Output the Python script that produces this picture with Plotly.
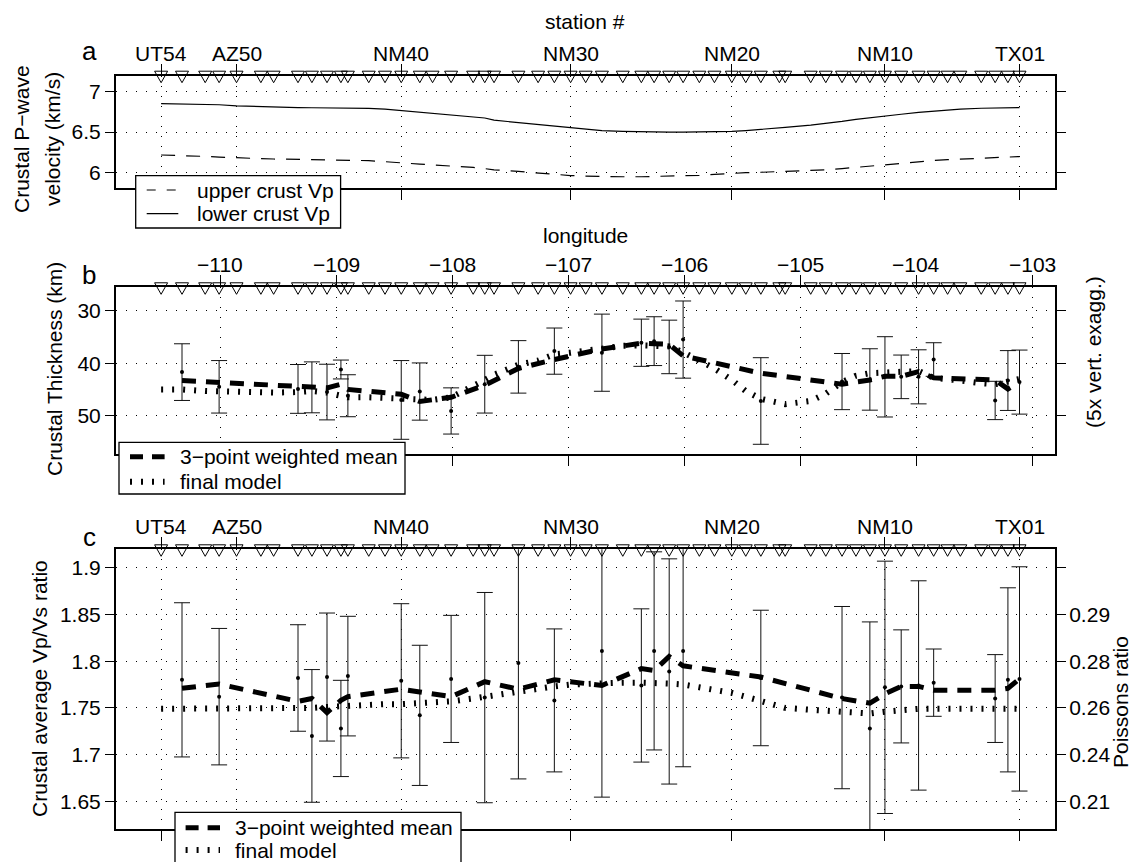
import plotly.graph_objects as go

W, H = 1134, 862
FONT = "Liberation Sans, Arial, Helvetica, sans-serif"
FS = 21

# ---------------- data ----------------
station_num = list(range(54, 0, -1))
station_lon = [-110.51, -110.33, -110.13, -110.01, -109.86, -109.65, -109.54, -109.33, -109.21, -109.08,
               -108.96, -108.90, -108.72, -108.58, -108.44, -108.28, -108.17, -108.01, -107.82, -107.72,
               -107.64, -107.43, -107.26, -107.12, -106.98, -106.85, -106.71, -106.53, -106.37, -106.26,
               -106.13, -106.01, -105.87, -105.74, -105.59, -105.47, -105.34, -105.18, -105.13, -104.91,
               -104.78, -104.64, -104.52, -104.40, -104.27, -104.13, -103.98, -103.85, -103.73, -103.62,
               -103.44, -103.32, -103.21, -103.11]
label_names = ["UT54", "AZ50", "NM40", "NM30", "NM20", "NM10", "TX01"]
label_num = [54, 50, 40, 30, 20, 10, 1]
lon_ticks = [-110, -109, -108, -107, -106, -105, -104, -103]
lon_ticktext = ["\u2212110", "\u2212109", "\u2212108", "\u2212107", "\u2212106", "\u2212105", "\u2212104", "\u2212103"]

# panel a: crustal P-wave velocity at each station
lower_vp = [6.848, 6.846, 6.842, 6.835, 6.822, 6.810, 6.805, 6.800, 6.798, 6.797,
            6.796, 6.795, 6.790, 6.782, 6.765, 6.745, 6.730, 6.712, 6.690, 6.672,
            6.645, 6.615, 6.592, 6.570, 6.548, 6.532, 6.518, 6.508, 6.502, 6.500,
            6.498, 6.498, 6.500, 6.503, 6.508, 6.518, 6.530, 6.550, 6.556, 6.585,
            6.605, 6.630, 6.655, 6.677, 6.697, 6.718, 6.740, 6.757, 6.772, 6.782,
            6.792, 6.797, 6.799, 6.800]
upper_vp = [6.217, 6.212, 6.200, 6.192, 6.180, 6.172, 6.168, 6.162, 6.160, 6.158,
            6.156, 6.155, 6.148, 6.135, 6.118, 6.105, 6.095, 6.085, 6.065, 6.050,
            6.035, 6.015, 5.995, 5.980, 5.965, 5.958, 5.952, 5.950, 5.950, 5.952,
            5.955, 5.960, 5.968, 5.978, 5.995, 6.000, 6.005, 6.012, 6.015, 6.025,
            6.035, 6.050, 6.065, 6.080, 6.100, 6.120, 6.135, 6.150, 6.160, 6.168,
            6.178, 6.188, 6.195, 6.198]

# stations with receiver-function measurements
meas_num = [53, 51, 47, 46, 45, 44, 43, 40, 39, 37, 35, 33, 31, 28, 26, 25, 24, 23, 18, 13,
            11, 10, 9, 8, 7, 3, 2, 1]

# panel b: crustal thickness (km)
thick = [41.7, 44.5, 44.9, 44.6, 45.5, 41.2, 46.2, 47.0, 45.4, 49.1,
         44.0, 40.7, 37.7, 38.0, 36.1, 35.8, 36.9, 35.5, 47.2, 43.5,
         43.1, 42.6, 42.6, 42.6, 39.3, 47.1, 43.3, 43.6]
thick_err = [5.4, 5.0, 4.65, 4.85, 5.3, 1.8, 4.0, 7.5, 5.45, 4.4,
             5.5, 5.0, 4.4, 7.35, 4.5, 4.65, 5.1, 7.35, 8.25, 5.35,
             5.85, 7.65, 4.15, 5.15, 3.2, 3.65, 5.7, 6.1]
mean_thick = [43.3, 43.7, 44.4, 44.6, 44.7, 44.0, 45.0, 45.9, 47.3, 46.5,
              44.2, 41.0, 39.3, 37.3, 36.2, 36.3, 36.4, 38.6, 41.9, 44.0,
              43.2, 42.5, 42.5, 41.6, 42.8, 43.2, 44.9, 43.6]
final_thick = [45.0, 45.0, 45.3, 45.4, 45.5, 45.6, 45.6, 45.5, 45.3, 45.6,
               46.3, 46.5, 46.5, 46.6, 46.8, 47.0, 47.0, 46.5, 44.5, 43.2,
               42.2, 40.3, 39.5, 38.3, 38.0, 37.6, 37.0, 36.7, 36.6, 36.6,
               36.8, 37.9, 39.4, 41.0, 43.2, 45.3, 46.8, 47.6, 47.8, 47.2,
               45.8, 43.6, 42.4, 41.9, 41.8, 41.5, 41.5, 42.8, 43.2, 43.3,
               43.8, 44.0, 43.5, 43.0]

# panel c: crustal average Vp/Vs
vpvs = [1.780, 1.762, 1.782, 1.720, 1.783, 1.728, 1.784, 1.779, 1.742, 1.781,
        1.761, 1.798, 1.758, 1.811, 1.774, 1.811, 1.789, 1.811, 1.782, 1.761,
        1.728, 1.772, 1.773, 1.774, 1.777, 1.760, 1.780, 1.781]
vpvs_err = [0.0825, 0.073, 0.057, 0.071, 0.0685, 0.0515, 0.064, 0.0825, 0.075, 0.068,
            0.1125, 0.124, 0.0765, 0.1565, 0.082, 0.106, 0.1205, 0.124, 0.0725, 0.0975,
            0.114, 0.135, 0.0605, 0.112, 0.036, 0.047, 0.0985, 0.12]
mean_vpvs = [1.771, 1.7755, 1.757, 1.760, 1.745, 1.758, 1.762, 1.770, 1.767, 1.762,
             1.778, 1.770, 1.780, 1.774, 1.792, 1.790, 1.805, 1.795, 1.783, 1.760,
             1.755, 1.765, 1.773, 1.773, 1.769, 1.769, 1.771, 1.781]
final_vpvs = [1.749, 1.749, 1.749, 1.749, 1.749, 1.749, 1.749, 1.749, 1.750, 1.751,
              1.752, 1.752, 1.753, 1.754, 1.754, 1.755, 1.756, 1.757, 1.760, 1.762,
              1.764, 1.768, 1.771, 1.773, 1.775, 1.776, 1.777, 1.777, 1.777, 1.777,
              1.776, 1.775, 1.772, 1.770, 1.766, 1.762, 1.757, 1.752, 1.750, 1.748,
              1.747, 1.746, 1.745, 1.744, 1.746, 1.748, 1.749, 1.749, 1.749, 1.749,
              1.749, 1.749, 1.749, 1.749]
vpvs_ticks = [1.65, 1.7, 1.75, 1.8, 1.85, 1.9]
vpvs_ticktext = ["1.65", "1.7", "1.75", "1.8", "1.85", "1.9"]
poisson_ticktext = ["0.21", "0.24", "0.26", "0.28", "0.29", ""]

# ---------------- layout helpers ----------------
def fx(px):
    return px / W


def fy(py):
    return 1 - py / H


lon_of = dict(zip(station_num, station_lon))
meas_lon = [lon_of[n] for n in meas_num]
label_lon = [lon_of[n] for n in label_num]

X_RANGE = [-110.899, -102.804]
XDOM = [fx(116), fx(1055)]
PA = (75.7, 188.3)
PB = (287.3, 454.0)
PC = (549.3, 829.0)
VPVS_RANGE = [1.6204, 1.9197]

tickfont = dict(family=FONT, size=FS, color="black")


def make_xaxis(anchor, tickvals):
    return dict(domain=XDOM, range=X_RANGE, anchor=anchor, side="top",
                tickmode="array", tickvals=tickvals, showticklabels=False,
                ticks="outside", ticklen=10, tickwidth=1, tickcolor="black",
                showline=True, linewidth=2, linecolor="black", mirror="ticks",
                showgrid=True, gridcolor="black", gridwidth=1, griddash="1px,9px",
                zeroline=False)


def make_yaxis(anchor, panel, rng, tickvals, ticktext):
    return dict(domain=[fy(panel[1]), fy(panel[0])], range=rng, anchor=anchor,
                tickmode="array", tickvals=tickvals, ticktext=ticktext,
                ticks="outside", ticklen=9, tickwidth=1, tickcolor="black",
                showline=True, linewidth=2, linecolor="black", mirror="ticks",
                showgrid=True, gridcolor="black", gridwidth=1, griddash="1px,9px",
                zeroline=False, tickfont=tickfont)


fig = go.Figure()

# ---- panel a ----
fig.add_trace(go.Scatter(x=station_lon, y=upper_vp, mode="lines", xaxis="x", yaxis="y",
                         line=dict(color="black", width=1.2, dash="14px,11px"), showlegend=False))
fig.add_trace(go.Scatter(x=station_lon, y=lower_vp, mode="lines", xaxis="x", yaxis="y",
                         line=dict(color="black", width=1.2), showlegend=False))

# ---- panel b ----
fig.add_trace(go.Scatter(x=meas_lon, y=thick, mode="markers", xaxis="x2", yaxis="y2",
                         marker=dict(color="black", size=4),
                         error_y=dict(type="data", array=thick_err, visible=True, color="#111",
                                      thickness=1, width=8), showlegend=False))
fig.add_trace(go.Scatter(x=station_lon, y=final_thick, mode="lines", xaxis="x2", yaxis="y2",
                         line=dict(color="black", width=6, dash="2px,9px"), showlegend=False))
fig.add_trace(go.Scatter(x=meas_lon, y=mean_thick, mode="lines", xaxis="x2", yaxis="y2",
                         line=dict(color="black", width=5, dash="14px,10px"), showlegend=False))

# ---- panel c ----
fig.add_trace(go.Scatter(x=meas_lon, y=vpvs, mode="markers", xaxis="x3", yaxis="y3",
                         marker=dict(color="black", size=4),
                         error_y=dict(type="data", array=vpvs_err, visible=True, color="#111",
                                      thickness=1, width=8), showlegend=False))
fig.add_trace(go.Scatter(x=station_lon, y=final_vpvs, mode="lines", xaxis="x3", yaxis="y3",
                         line=dict(color="black", width=6, dash="2px,9px"), showlegend=False))
# drawn on the Poisson-ratio axis (same range) so that the right-hand axis is rendered
fig.add_trace(go.Scatter(x=meas_lon, y=mean_vpvs, mode="lines", xaxis="x3", yaxis="y4",
                         line=dict(color="black", width=5, dash="14px,10px"), showlegend=False))

# ---------------- shapes: station triangles ----------------
shapes = []
for xref, panel in (("x", PA), ("x2", PB), ("x3", PC)):
    yt = fy(panel[0] - 4.5)
    ya = fy(panel[0] + 7.0)
    for lon in station_lon:
        shapes.append(dict(type="path", xref=xref, yref="paper", xsizemode="pixel", xanchor=lon,
                           path=f"M-6.5,{yt:.5f} L6.5,{yt:.5f} L0,{ya:.5f} Z",
                           line=dict(color="black", width=1), fillcolor="rgba(0,0,0,0)",
                           layer="above"))

annotations = []

# top tick labels (station names / longitudes)
for xref, panel, vals, texts in (("x", PA, label_lon, label_names),
                                 ("x2", PB, lon_ticks, lon_ticktext),
                                 ("x3", PC, label_lon, label_names)):
    for v, t in zip(vals, texts):
        annotations.append(dict(text=t, xref=xref, yref="paper", x=v, y=fy(panel[0] - 22.5),
                                xanchor="center", yanchor="middle", showarrow=False,
                                font=dict(family=FONT, size=FS, color="black")))


def legend_box(x0, x1, y0, y1, items):
    shapes.append(dict(type="rect", xref="paper", yref="paper", x0=fx(x0), x1=fx(x1),
                       y0=fy(y1), y1=fy(y0), line=dict(color="black", width=1.3),
                       fillcolor="white", layer="above"))
    for (sx0, sx1, sy, lw, dash, tx, text) in items:
        shapes.append(dict(type="line", xref="paper", yref="paper", x0=fx(sx0), x1=fx(sx1),
                           y0=fy(sy), y1=fy(sy), line=dict(color="black", width=lw, dash=dash),
                           layer="above"))
        annotations.append(dict(text=text, xref="paper", yref="paper", x=fx(tx), y=fy(sy),
                                xanchor="left", yanchor="middle", showarrow=False,
                                font=dict(family=FONT, size=FS, color="black")))


legend_box(135.7, 340.6, 175.7, 228.0, [
    (146.7, 178.3, 190.0, 1.2, "9px,11px", 195, "upper crust Vp"),
    (146.7, 178.3, 213.7, 1.2, "solid", 195, "lower crust Vp"),
])
legend_box(119.0, 405.0, 442.3, 494.0, [
    (130.0, 164.6, 456.7, 5, "13px,9px", 178, "3\u2212point weighted mean"),
    (130.0, 164.6, 481.7, 6, "2px,9px", 178, "final model"),
])
legend_box(175.0, 461.0, 812.3, 880.0, [
    (185.6, 220.0, 827.7, 5, "13px,9px", 233.4, "3\u2212point weighted mean"),
    (185.6, 220.0, 850.0, 6, "2px,9px", 233.4, "final model"),
])


def text(s, x, y, size=FS, angle=0, xanchor="center"):
    annotations.append(dict(text=s, xref="paper", yref="paper", x=fx(x), y=fy(y),
                            xanchor=xanchor, yanchor="middle", showarrow=False, textangle=angle,
                            font=dict(family=FONT, size=size, color="black")))


text("station #", 585, 21)
text("longitude", 585, 236)
text("a", 89, 51, size=26)
text("b", 89, 275, size=26)
text("c", 89, 537, size=26)
text("Crustal P\u2212wave", 21, 139, angle=-90)
text("velocity (km/s)", 52, 139, angle=-90)
text("Crustal Thickness (km)", 55, 369, angle=-90)
text("(5x vert. exagg.)", 1093, 352, angle=-90)
text("Crustal average Vp/Vs ratio", 39, 689, angle=-90)
text("Poissons ratio", 1120, 702, angle=-90)

fig.update_layout(
    width=W, height=H, autosize=False,
    margin=dict(l=0, r=0, t=0, b=0),
    paper_bgcolor="white", plot_bgcolor="white",
    showlegend=False,
    font=dict(family=FONT, size=FS, color="black"),
    xaxis=make_xaxis("y", label_lon),
    xaxis2=make_xaxis("y2", lon_ticks),
    xaxis3=make_xaxis("y3", label_lon),
    yaxis=make_yaxis("x", PA, [5.808, 7.192], [6, 6.5, 7], ["6", "6.5", "7"]),
    yaxis2=make_yaxis("x2", PB, [57.3, 25.54], [30, 40, 50], ["30", "40", "50"]),
    yaxis3=make_yaxis("x3", PC, VPVS_RANGE, vpvs_ticks, vpvs_ticktext),
    yaxis4=dict(range=VPVS_RANGE, anchor="x3", overlaying="y3", side="right",
                tickmode="array", tickvals=vpvs_ticks, ticktext=poisson_ticktext,
                ticks="outside", ticklen=9, tickwidth=1, tickcolor="black",
                showline=False, showgrid=False, zeroline=False, tickfont=tickfont),
    shapes=shapes,
    annotations=annotations,
)

fig.write_html("out.html",
               config={"displayModeBar": False},
               post_script="document.body.style.margin='0px';document.body.style.padding='0px';"
                           "document.body.style.overflow='hidden';")
